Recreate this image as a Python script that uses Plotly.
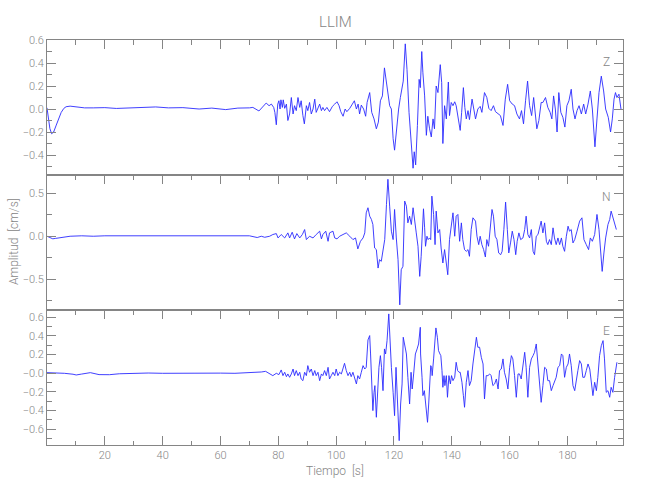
import plotly.graph_objects as go
from plotly.subplots import make_subplots

# ---------------- data ----------------
Z_t = [0, 0.5, 1.0, 1.6, 2.3, 3.2, 4.0, 4.9, 5.8, 6.6, 8, 10, 13, 16, 20, 24, 28, 32, 37.6, 42, 47, 52.6, 57, 61.8, 66, 70,
       71.2, 73.3, 74.9, 75.8, 76.8, 77.6, 78.4, 78.8, 79.3, 79.8, 80.2, 80.6, 80.9, 81.4, 81.7, 82.2, 82.8, 83.3, 83.9,
       84.5, 85.1, 85.6, 86.2, 86.8, 87.4, 87.9, 88.5, 89.0, 89.7, 90.2, 90.8, 91.4, 92.0, 92.6, 93.1, 93.7, 94.3, 94.9,
       95.4, 96.0, 96.8, 97.7, 98.7, 99.5, 100.3, 101.0, 101.6, 102.4, 103.1, 103.7, 104.7, 105.6, 106.3, 107.0, 107.6,
       108.1, 108.7, 109.5, 110.2, 110.7, 111.6, 112.3, 113.1, 113.9, 114.6, 115.3, 116.0, 116.7, 117.4, 117.8, 118.5,
       119.1, 119.7, 120.2, 120.8, 121.6, 122.2, 122.8, 123.2, 123.9, 124.5, 125.2, 125.9, 126.6, 127.0, 127.5, 128.1,
       128.7, 129.1, 129.6, 130.0, 130.6, 131.2, 131.7, 132.3, 132.9, 133.5, 134.0, 134.6, 135.2, 136.0, 136.5, 136.9,
       137.5, 138.1, 138.8, 139.2, 139.8, 140.4, 141.0, 141.5, 142.3, 142.9, 143.4, 144.0, 144.5, 145.0, 145.6, 146.1,
       147.0, 147.6, 148.2, 149.0, 149.8, 150.4, 151.3, 152.1, 152.8, 153.6, 154.4, 155.1, 156.0, 156.8, 157.7, 158.5,
       159.3, 160.0, 160.9, 161.7, 162.5, 163.4, 164.1, 164.8, 165.5, 166.2, 166.9, 167.6, 168.3, 169.0, 169.4, 170.1,
       170.9, 171.5, 172.4, 173.2, 174.0, 174.6, 175.2, 175.8, 176.4, 177.0, 177.7, 178.4, 179.1, 179.8, 180.5, 181.3,
       181.9, 182.6, 183.3, 184.0, 184.8, 185.6, 186.3, 187.1, 187.9, 188.6, 189.0, 189.5, 190.2, 190.9, 191.7, 192.5,
       193.2, 194.1, 194.9, 195.5, 196.1, 196.6, 197.1, 197.8, 198.5]
Z_v = [0.01, -0.08, -0.17, -0.215, -0.2, -0.14, -0.08, -0.03, 0.005, 0.02, 0.025, 0.02, 0.01, 0.01, 0.012, 0.005, 0.01, 0.01, 0.018, 0.01, 0.012, 0.0, 0.008, -0.005, 0.008, 0.01,
       0.014, -0.017, 0.023, 0.052, 0.029, 0.043, 0.014, -0.029, -0.137, 0.043, 0.072, 0.0, 0.08, 0.014, 0.08, 0.006, 0.043, -0.1, -0.043,
       0.1, -0.043, 0.029, -0.014, 0.1, 0.014, 0.072, -0.057, -0.129, 0.029, -0.014, 0.057, -0.043, 0.0, 0.086, -0.029, 0.0, 0.043, -0.014,
       0.014, -0.014, 0.014, -0.023, 0.023, 0.043, 0.063, 0.029, -0.023, -0.063, 0.0, -0.023, 0.006, 0.043, 0.072, 0.0, 0.043,
       -0.043, 0.034, 0.0, -0.063, 0.057, 0.143, -0.029, -0.086, -0.172, -0.114, 0.072, 0.114, 0.358, 0.229, 0.129, 0.029,
       0.0, -0.258, -0.358, -0.2, 0.0, 0.1, 0.2, 0.243, 0.567, 0.343, -0.029, -0.3, -0.515, -0.372, -0.486, -0.143,
       0.258, 0.186, 0.5, 0.315, 0.114, -0.229, -0.063, -0.172, -0.243, -0.086, -0.172, 0.2, 0.143, 0.386, 0.229, -0.3,
       0.029, -0.086, 0.235, -0.057, 0.057, 0.029, 0.063, 0.029, -0.086, -0.186, -0.029, 0.186, 0.014, -0.086, -0.014, -0.092,
       0.086, 0.0, -0.086, 0.0, 0.023, -0.029, 0.143, 0.1, 0.006, -0.014, 0.029, -0.023, -0.043, -0.057, -0.143, 0.086,
       0.215, 0.072, 0.043, 0.029, -0.043, -0.086, -0.014, -0.129, 0.072, 0.243, 0.029, -0.057, 0.1, -0.086, -0.172, -0.1,
       0.057, 0.057, 0.1, 0.014, -0.029, -0.086, 0.114, 0.0, -0.2, 0.143, -0.029, -0.072, -0.157, 0.029, 0.072, 0.172,
       0.0, -0.086, -0.014, 0.029, -0.043, 0.043, -0.043, 0.043, 0.157, 0.0, -0.172, -0.329, -0.086, 0.143, 0.286, 0.157,
       0.0, -0.072, -0.2, -0.086, 0.086, 0.143, 0.1, 0.129, 0.0]

N_t = [0, 1, 2, 3, 4.5, 6, 8, 12, 16, 20, 25, 30, 35, 40, 45, 50, 55, 60, 65, 70, 72.7,
       74.1, 75.3, 77.0, 78.1, 79.3, 79.9, 81.0, 82.2, 83.3, 83.9, 84.8, 85.6, 86.4, 87.4, 88.3, 89.1, 89.7, 90.8, 92.0,
       93.1, 94.3, 94.9, 95.4, 96.4, 97.2, 97.7, 98.9, 99.5, 100.3, 101.2, 102.4, 103.5, 104.7, 105.8, 106.7, 107.5,
       108.4, 109.3, 109.9, 110.4, 111.0, 111.6, 112.2, 112.7, 113.3, 113.9, 114.5, 115.0, 115.6, 116.2, 116.8, 117.4,
       117.9, 118.5, 119.1, 119.7, 120.2, 120.8, 121.4, 122.0, 122.5, 123.1, 123.7, 124.3, 124.8, 125.4, 126.0, 126.6,
       127.2, 127.7, 128.3, 128.9, 129.4, 129.8, 130.2, 130.6, 130.9, 131.4, 131.8, 132.3, 132.7, 133.1, 133.7, 134.2,
       134.6, 135.2, 135.8, 136.3, 136.9, 137.5, 138.1, 138.6, 139.2, 139.8, 140.4, 141.0, 141.5, 142.1, 142.7, 143.3,
       143.8, 144.4, 145.0, 145.6, 146.1, 146.7, 147.3, 148.2, 148.7, 149.3, 149.8, 150.4, 151.0, 151.6, 152.1, 152.7,
       153.3, 153.9, 154.4, 155.0, 155.6, 156.2, 156.9, 157.4, 158.0, 158.6, 159.2, 159.7, 160.3, 160.9, 161.5, 162.1,
       162.6, 163.2, 163.8, 164.6, 165.2, 165.7, 166.3, 166.9, 167.5, 168.1, 168.6, 169.2, 169.8, 170.4, 170.9, 171.5,
       172.1, 172.7, 173.2, 173.8, 174.4, 175.0, 175.5, 176.1, 176.7, 177.3, 177.9, 178.4, 179.0, 179.6, 180.2, 180.7,
       181.3, 181.9, 182.5, 183.3, 184.2, 185.0, 185.7, 186.5, 187.3, 187.9, 188.6, 189.4, 190.2, 190.9, 191.5, 192.0,
       192.6, 193.2, 194.0, 194.6, 195.1, 195.7, 196.3, 196.9]
N_v = [0.0, -0.02, -0.03, -0.025, -0.015, -0.005, 0.0, 0.005, 0.0, 0.005, 0.005, 0.0, 0.0, 0.003, 0.0, 0.0, 0.002, 0.0, 0.0, 0.005, -0.015,
       0.0, -0.012, 0.0, 0.02, 0.031, -0.02, 0.02, -0.02, 0.039, -0.02, 0.047, -0.031, 0.031, -0.02, 0.02, 0.078, -0.039, 0.0, -0.02,
       0.02, 0.059, -0.031, 0.02, 0.059, -0.059, 0.039, 0.059, -0.02, -0.031, 0.0, 0.02, 0.039, 0.0, -0.039, -0.02, -0.148,
       -0.059, -0.02, 0.039, 0.273, 0.332, 0.234, 0.195, 0.137, -0.137, -0.156, -0.371, -0.273, -0.293, -0.137, -0.039, 0.371,
       0.664, 0.351, 0.059, -0.039, 0.312, -0.02, -0.273, -0.8, -0.39, -0.351, 0.41, 0.351, 0.156, 0.234, 0.137, 0.332,
       0.137, 0.039, -0.117, -0.468, -0.234, 0.078, 0.32, 0.098, -0.117, 0.0, -0.039, -0.02, -0.039, 0.468, 0.254, -0.098,
       0.293, 0.039, 0.078, -0.137, -0.312, -0.156, -0.293, -0.449, -0.039, 0.156, 0.273, 0.0, 0.234, 0.254, -0.059, 0.156,
       -0.039, -0.156, -0.176, -0.156, -0.234, 0.078, 0.215, 0.176, 0.0, -0.098, 0.0, -0.098, -0.156, -0.242, -0.039, -0.117,
       0.078, 0.312, 0.234, 0.0, -0.039, -0.195, -0.215, -0.176, 0.078, 0.398, 0.078, -0.195, -0.078, 0.059, -0.039, -0.215,
       -0.059, 0.039, -0.039, -0.02, 0.078, 0.234, 0.02, -0.02, 0.078, -0.176, -0.215, 0.0, 0.02, 0.098, 0.176, 0.039,
       0.156, -0.059, -0.098, -0.039, -0.098, 0.098, -0.02, -0.098, -0.02, -0.098, -0.02, -0.117, -0.176, 0.0, 0.117, 0.059,
       0.078, -0.078, -0.039, 0.059, 0.176, 0.215, -0.039, -0.098, -0.156, -0.02, -0.059, 0.02, 0.254, 0.078, -0.215, -0.41,
       -0.195, -0.02, 0.137, 0.195, 0.293, 0.215, 0.137, 0.078]

E_t = [0, 3, 6, 9, 10.1, 12, 15, 18, 21.6, 25, 30, 35, 40, 45, 50, 55, 60, 65, 70,
       72.4, 74.1, 75.6, 77.0, 78.1, 79.3, 80.2, 81.0, 81.6, 82.2, 82.8, 83.3, 83.9, 84.5, 85.1, 85.6, 86.2, 86.8, 87.4,
       87.9, 88.5, 89.1, 89.7, 90.2, 90.8, 91.4, 92.0, 92.6, 93.1, 93.7, 94.3, 94.9, 95.4, 96.0, 96.6, 97.2, 97.7, 98.3,
       98.9, 99.5, 100.0, 100.6, 101.2, 101.8, 102.4, 102.9, 103.5, 104.1, 104.7, 105.2, 105.8, 106.4, 107.0, 107.5,
       108.1, 108.7, 109.3, 109.9, 110.4, 111.0, 111.6, 111.9, 112.3, 112.7, 113.1, 113.4, 113.9, 114.4, 114.8, 115.3,
       115.7, 116.2, 116.7, 117.1, 117.6, 118.2, 118.6, 119.1, 119.7, 120.2, 120.7, 121.0, 121.5, 121.8, 122.3, 122.8,
       123.2, 123.7, 124.3, 124.8, 125.4, 125.9, 126.3, 126.8, 127.4, 128.0, 128.5, 129.1, 129.2, 129.7, 130.0, 130.5,
       130.8, 131.3, 131.6, 132.0, 132.3, 132.7, 133.0, 133.2, 133.7, 134.0, 134.5, 135.0, 135.4, 135.9, 136.2, 136.6,
       136.9, 137.3, 137.6, 138.1, 138.5, 139.0, 139.5, 139.9, 140.4, 141.0, 141.5, 142.0, 142.5, 142.9, 143.5, 144.0,
       144.4, 145.0, 145.6, 146.1, 146.7, 147.3, 147.9, 148.5, 149.0, 149.6, 150.2, 150.8, 151.3, 151.9, 152.5, 153.1,
       153.6, 154.2, 154.8, 155.4, 156.0, 156.5, 157.1, 157.7, 158.2, 158.8, 159.4, 160.0, 160.6, 161.1, 161.7, 162.3,
       162.9, 163.4, 164.0, 164.6, 165.2, 165.7, 166.3, 166.9, 167.5, 168.1, 168.6, 169.2, 169.8, 170.4, 170.9, 171.5,
       172.1, 172.7, 173.2, 173.8, 174.4, 175.0, 175.5, 176.1, 176.7, 177.3, 177.9, 178.4, 179.0, 179.6, 180.2, 180.7,
       181.3, 181.9, 182.5, 183.0, 183.6, 184.2, 184.8, 185.3, 185.9, 186.5, 187.1, 187.7, 188.2, 188.8, 189.4, 190.0,
       190.5, 191.1, 191.7, 192.3, 192.8, 193.4, 194.0, 194.6, 195.1, 195.7, 196.3, 196.9, 197.1]
E_v = [0.007, 0.005, 0.0, -0.01, -0.018, -0.008, 0.007, -0.014, -0.015, -0.005, 0.0, 0.003, 0.0, 0.002, 0.0, 0.0, 0.002, 0.0, 0.005,
       0.011, 0.014, 0.021, -0.007, -0.025, 0.0, -0.014, 0.036, -0.025, 0.011, -0.036, -0.007, -0.043, -0.007, 0.046, -0.025, 0.029, -0.025, 0.011,
       -0.061, -0.079, 0.011, -0.025, 0.082, 0.011, 0.046, -0.025, 0.029, -0.025, 0.011, -0.079, -0.007, -0.025, 0.029, -0.025, 0.064, -0.061, -0.025,
       0.011, -0.025, 0.046, -0.025, 0.011, -0.007, 0.046, 0.107, 0.029, -0.025, 0.011, -0.036, 0.011, -0.061, -0.114, -0.025,
       -0.061, 0.011, 0.082, 0.046, 0.064, 0.357, 0.404, 0.207, -0.168, -0.4, -0.204, -0.132, -0.471, -0.15, 0.064, 0.189,
       0.064, -0.186, 0.261, 0.207, 0.35, 0.636, 0.35, 0.064, -0.204, -0.454, 0.064, -0.186, -0.596, -0.721, -0.329, -0.114,
       0.386, 0.314, 0.207, -0.043, -0.329, 0.011, -0.168, -0.007, 0.207, 0.261, 0.314, 0.493, 0.207, -0.043, -0.239, -0.186,
       -0.293, -0.4, -0.525, -0.329, -0.15, 0.082, 0.064, -0.025, 0.154, 0.261, 0.486, 0.386, 0.243, 0.207, 0.189, 0.029,
       -0.15, -0.025, -0.132, -0.025, -0.257, -0.025, -0.114, -0.025, -0.079, -0.043, 0.118, 0.029, 0.011, 0.011, -0.096, -0.239,
       -0.364, -0.096, 0.029, -0.132, -0.079, 0.1, 0.243, 0.386, 0.279, 0.279, 0.171, 0.1, -0.275, -0.025, -0.025, -0.007,
       -0.025, -0.132, -0.114, -0.061, -0.168, 0.029, 0.046, 0.154, 0.011, -0.061, -0.168, 0.064, 0.189, 0.154, -0.025, -0.257,
       -0.007, -0.007, -0.061, 0.118, 0.225, 0.064, -0.257, 0.064, 0.154, 0.189, 0.225, 0.314, 0.082, -0.186, -0.311, -0.132,
       0.064, 0.046, -0.079, -0.079, -0.186, -0.132, -0.096, -0.043, 0.064, 0.082, 0.207, 0.189, -0.043, 0.064, 0.1, 0.207,
       0.082, -0.132, -0.186, -0.061, 0.029, 0.136, 0.1, -0.043, -0.043, 0.029, 0.1, 0.046, -0.079, -0.239, -0.096, -0.186,
       -0.043, 0.189, 0.296, 0.35, 0.154, -0.204, -0.186, -0.257, -0.15, -0.204, -0.043, 0.1, 0.118]

components = ["Z", "N", "E"]
series_t = [Z_t, N_t, E_t]
series_v = [Z_v, N_v, E_v]

y_ranges = [[-0.574, 0.6005], [-0.86, 0.714], [-0.768, 0.678]]
y_tickvals = [[-0.4, -0.2, 0.0, 0.2, 0.4, 0.6],
              [-0.5, 0.0, 0.5],
              [-0.6, -0.4, -0.2, 0.0, 0.2, 0.4, 0.6]]
y_ticktext = [["\u22120.4", "\u22120.2", "0.0", "0.2", "0.4", "0.6"],
              ["\u22120.5", "0.0", "0.5"],
              ["\u22120.6", "\u22120.4", "\u22120.2", "\u22120.0", "0.2", "0.4", "0.6"]]
y_minor = [0.1, 0.25, 0.1]
x_range = [0, 199.2]
x_tickvals = [20, 40, 60, 80, 100, 120, 140, 160, 180]

title_text = "LLIM"
x_title = "Tiempo\u00a0\u00a0[s]"
y_title = "Amplitud\u00a0\u00a0[cm/s]"

# ---------------- figure ----------------
GRAY = "#858585"
FONT = "Roboto, DejaVu Sans, sans-serif"
LINE = "#2a2aff"

fig = make_subplots(rows=3, cols=1, shared_xaxes=False, vertical_spacing=0)

for i in range(3):
    fig.add_trace(go.Scatter(x=series_t[i], y=series_v[i], mode="lines",
                             line=dict(color=LINE, width=0.9), showlegend=False,
                             hoverinfo="skip"), row=i + 1, col=1)

domains = [[2 / 3, 1.0], [1 / 3, 2 / 3], [0.0, 1 / 3]]
for i in range(3):
    xa = dict(range=x_range, tickvals=x_tickvals, ticks="inside", ticklen=9, tickwidth=1,
              tickcolor=GRAY, showline=True, linecolor=GRAY, linewidth=1,
              showgrid=False, zeroline=False, automargin=False,
              minor=dict(ticks="inside", dtick=10, tick0=0, ticklen=4.5, tickcolor=GRAY, showgrid=False),
              tickfont=dict(family=FONT, size=11, color=GRAY, weight=300))
    if i < 2:
        xa.update(side="top", mirror=True, showticklabels=False)
    else:
        xa.update(side="bottom", mirror="ticks", showticklabels=True)
    fig.update_xaxes(row=i + 1, col=1, **xa)
    fig.update_yaxes(row=i + 1, col=1, range=y_ranges[i], domain=domains[i],
                     tickvals=y_tickvals[i], ticktext=y_ticktext[i], automargin=False,
                     ticks="inside", ticklen=9, tickwidth=1, tickcolor=GRAY,
                     showline=True, linecolor=GRAY, linewidth=1, mirror="ticks",
                     showgrid=False, zeroline=False,
                     minor=dict(ticks="inside", dtick=y_minor[i], tick0=0, ticklen=5,
                                tickcolor=GRAY, showgrid=False),
                     tickfont=dict(family=FONT, size=11, color=GRAY, weight=300))

def ann(text, px, py, size, angle=0):
    return dict(text=text, x=(px - 47) / 576, y=(445 - py) / 405, xref="paper", yref="paper",
                xanchor="center", yanchor="middle", textangle=angle, showarrow=False,
                font=dict(family=FONT, size=size, color=GRAY, weight=300))

annotations = [ann(title_text, 335, 22, 15),
               ann(x_title, 335, 471, 12),
               ann(y_title, 14, 242, 12, -90)]
label_py = [62, 196.5, 331]
for i in range(3):
    annotations.append(ann(components[i], 606.5, label_py[i], 12))

fig.update_layout(width=650, height=500, paper_bgcolor="white", plot_bgcolor="white",
                  margin=dict(l=47, r=27, t=40, b=55, autoexpand=False),
                  annotations=annotations, showlegend=False)

fig.write_html("out.html", config={"displayModeBar": False},
               post_script="document.body.style.margin='0';document.body.style.overflow='hidden';")
